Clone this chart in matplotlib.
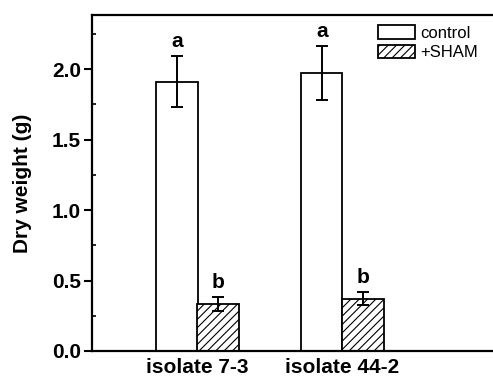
import matplotlib
matplotlib.use("Agg")
import matplotlib.pyplot as plt
from matplotlib.patches import Patch
from matplotlib.ticker import MultipleLocator

plt.rcParams['font.family'] = ['Liberation Sans', 'DejaVu Sans']
plt.rcParams['hatch.color'] = '#9a9a9a'
plt.rcParams['hatch.linewidth'] = 0.8

groups = ["isolate 7-3", "isolate 44-2"]
control = [1.91, 1.97]
control_err = [0.18, 0.19]
sham = [0.335, 0.37]
sham_err = [0.05, 0.045]
control_letters = ["a", "a"]
sham_letters = ["b", "b"]
yticks = [0.0, 0.5, 1.0, 1.5, 2.0]

fig = plt.figure(figsize=(4.93, 3.79), dpi=100)
ax = fig.add_axes([92/493, 1-351/379, 406/493, (351-15)/379])

xs = [1, 2]
w = 0.283
xc = [x - w/2 for x in xs]
xsm = [x + w/2 for x in xs]

ax.bar(xc, control, width=w, color='white', edgecolor='black', linewidth=1.3, zorder=2)
ax.bar(xsm, sham, width=w, color='white', edgecolor='black', linewidth=1.3, hatch='////', zorder=2)
ax.errorbar(xc, control, yerr=control_err, fmt='none', ecolor='black', elinewidth=1.4, capsize=4, capthick=1.4, zorder=3)
ax.errorbar(xsm, sham, yerr=sham_err, fmt='none', ecolor='black', elinewidth=1.4, capsize=4, capthick=1.4, zorder=3)

for x, v, e, t in zip(xc, control, control_err, control_letters):
    ax.text(x, v + e + 0.065, t, ha='center', va='baseline', fontsize=15, fontweight='bold')
for x, v, e, t in zip(xsm, sham, sham_err, sham_letters):
    ax.text(x, v + e + 0.065, t, ha='center', va='baseline', fontsize=15, fontweight='bold')

ax.set_xlim(1 - 105.5/145, 1 + (498-197.5)/145)
ax.set_ylim(0, 2.383)
ax.set_xticks(xs)
ax.set_xticklabels(groups, fontsize=15, fontweight='bold')
ax.tick_params(axis='x', length=0, pad=5)
ax.set_yticks(yticks)
ax.set_yticklabels([f"{v:.1f}" for v in yticks], fontsize=15, fontweight='bold')
ax.yaxis.set_minor_locator(MultipleLocator(0.25))
ax.tick_params(axis='y', which='major', direction='out', length=6, width=1.5, pad=2)
ax.tick_params(axis='y', which='minor', direction='in', length=3, width=1.2)
ax.set_ylabel("Dry weight (g)", fontsize=15, fontweight='bold', labelpad=14)
for s in ax.spines.values():
    s.set_linewidth(1.6)

handles = [Patch(facecolor='white', edgecolor='black', linewidth=1.3, label='control'),
           Patch(facecolor='white', edgecolor='black', linewidth=1.3, hatch='////', label='+SHAM')]
fig.legend(handles=handles, loc='upper left', bbox_to_anchor=(375/493, 1-22/379), frameon=False,
           fontsize=12, handlelength=2.2, handleheight=0.85, handletextpad=0.3, labelspacing=0.25,
           borderaxespad=0, borderpad=0.2)

fig.savefig("out.png", dpi=100)
